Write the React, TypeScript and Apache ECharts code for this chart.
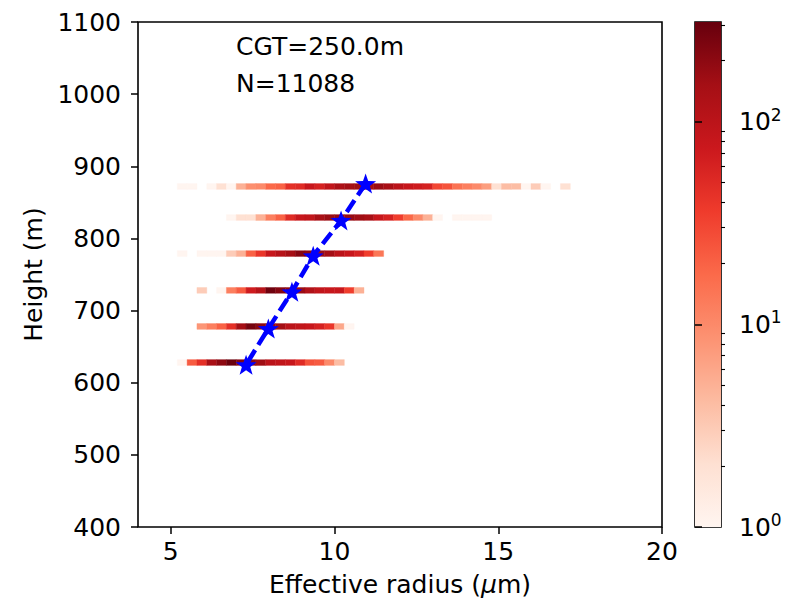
import React, { useEffect, useRef } from "react";
import * as echarts from "echarts";

// ---- data ----
const binStart = 5.2; // left edge of first radius bin (µm)
const binWidth = 0.3; // radius bin width (µm)
const binHeight = 8; // height bin thickness (m)
const rowHeights = [872, 829, 779, 728, 678, 628];
const row872 = [1, 1, 0, 1, 2, 1, 5, 9, 10, 18, 20, 45, 50, 80, 60, 90, 130, 150, 160, 150, 170, 140, 100, 80, 70, 60, 30, 25, 15, 12, 10, 7, 2, 4, 4, 1, 3, 1, 0, 2];
const row829 = [0, 0, 0, 0, 0, 1, 2, 2, 5, 12, 20, 50, 80, 90, 140, 170, 180, 180, 160, 140, 80, 60, 35, 18, 10, 5, 1, 0, 1, 1, 1, 1];
const row779 = [1, 0, 1, 1, 1, 3, 5, 20, 40, 80, 110, 150, 220, 200, 170, 150, 100, 80, 60, 35, 14];
const row728 = [0, 0, 3, 0, 1, 12, 22, 70, 110, 280, 220, 200, 170, 120, 90, 80, 80, 35, 5];
const row678 = [0, 0, 8, 12, 20, 45, 150, 260, 200, 180, 150, 100, 90, 80, 60, 40, 6, 1];
const row628 = [1, 22, 45, 140, 200, 300, 220, 200, 160, 100, 90, 80, 50, 25, 22, 10, 4];
const rowCounts = [row872, row829, row779, row728, row678, row628];
const meanRadius = [10.95, 10.2, 9.35, 8.7, 7.98, 7.3];
const meanHeight = [876, 825, 776, 726, 675, 625];
const xTicks = [5, 10, 15, 20];
const cbarMax = 310;
const cbarMajor = [0, 1, 2];
const cbarMinor = [2, 3, 4, 5, 6, 7, 8, 9, 20, 30, 40, 50, 60, 70, 80, 90, 200, 300];
const reds = ["#fff5f0", "#fee0d2", "#fcbba1", "#fc9272", "#fb6a4a", "#ef3b2c", "#cb181d", "#a50f15", "#67000d"];

const FONT = "DejaVu Sans";
const FS = 25;
const LOGMAX = Math.log10(cbarMax);

function hexToRgb(h: string) {
  const n = parseInt(h.slice(1), 16);
  return [(n >> 16) & 255, (n >> 8) & 255, n & 255];
}
function colorFor(count: number) {
  let t = Math.log10(Math.max(count, 1)) / LOGMAX;
  t = Math.min(1, Math.max(0, t));
  const pos = t * (reds.length - 1);
  const i = Math.min(reds.length - 2, Math.floor(pos));
  const f = pos - i;
  const a = hexToRgb(reds[i]);
  const b = hexToRgb(reds[i + 1]);
  const c = a.map((v, k) => Math.round(v + (b[k] - v) * f));
  return `rgb(${c[0]},${c[1]},${c[2]})`;
}

const heatData: number[][] = [];
rowCounts.forEach((row, r) => {
  row.forEach((c, k) => {
    if (c > 0) heatData.push([binStart + binWidth * (k + 0.5), rowHeights[r], c]);
  });
});
const lineData = meanRadius.map((x, i) => [x, meanHeight[i]]);

const STAR =
  "path://M0,-10 L2.35,-3.24 L9.51,-3.09 L3.8,1.24 L5.88,8.09 L0,4 L-5.88,8.09 L-3.8,1.24 L-9.51,-3.09 L-2.35,-3.24 Z";

export default function App() {
  const ref = useRef<HTMLDivElement>(null);
  useEffect(() => {
    if (!ref.current) return;
    const chart = echarts.init(ref.current, null, { renderer: "svg" });
    const tickLabel = { color: "#000", fontSize: FS, fontFamily: FONT };
    chart.setOption({
      animation: false,
      backgroundColor: "#fff",
      grid: [
        { left: 138, top: 22, width: 524, height: 505, show: true, borderColor: "#000", borderWidth: 1.6, backgroundColor: "transparent" },
        { left: 695, top: 22, width: 26, height: 505, show: true, borderColor: "#000", borderWidth: 1.6, backgroundColor: "transparent" },
      ],
      xAxis: [
        {
          type: "value",
          gridIndex: 0,
          min: 4,
          max: 20,
          splitLine: { show: false },
          axisLine: { show: false },
          axisTick: { show: true, length: 7, customValues: xTicks, lineStyle: { color: "#000", width: 1.5 } },
          axisLabel: { ...tickLabel, margin: 12, customValues: xTicks },
          name: "Effective radius ({i|μ}m)",
          nameLocation: "middle",
          nameGap: 45,
          nameTextStyle: { color: "#000", fontSize: FS, fontFamily: FONT, rich: { i: { fontStyle: "italic", fontSize: FS, fontFamily: FONT, color: "#000" } } },
        },
        { type: "value", gridIndex: 1, min: 0, max: 1, show: false },
      ],
      yAxis: [
        {
          type: "value",
          gridIndex: 0,
          min: 400,
          max: 1100,
          interval: 100,
          splitLine: { show: false },
          axisLine: { show: false },
          axisTick: { show: true, length: 7, lineStyle: { color: "#000", width: 1.5 } },
          axisLabel: { ...tickLabel, margin: 17, formatter: (v: number) => String(v) },
          name: "Height (m)",
          nameLocation: "middle",
          nameGap: 90,
          nameTextStyle: { color: "#000", fontSize: FS, fontFamily: FONT },
        },
        {
          type: "value",
          gridIndex: 1,
          min: 0,
          max: LOGMAX,
          position: "right",
          splitLine: { show: false },
          axisLine: { show: false },
          axisTick: { show: true, length: 7, customValues: cbarMajor, lineStyle: { color: "#000", width: 1.5 } },
          axisLabel: {
            customValues: cbarMajor,
            margin: 18,
            formatter: (v: number) => `{b|10}{s|${Math.round(v)}}`,
            rich: {
              b: { fontSize: FS, fontFamily: FONT, color: "#000" },
              s: { fontSize: 17, fontFamily: FONT, color: "#000", verticalAlign: "top", padding: [0, 0, 14, 0] },
            },
          },
        },
        {
          type: "value",
          gridIndex: 1,
          min: 0,
          max: LOGMAX,
          position: "right",
          splitLine: { show: false },
          axisLine: { show: false },
          axisTick: { show: true, length: 4, customValues: cbarMinor.map((v) => Math.log10(v)), lineStyle: { color: "#000", width: 1.1 } },
          axisLabel: { show: false },
        },
      ],
      graphic: [
        { type: "text", left: 236, top: 34, style: { text: "CGT=250.0m", fontSize: FS, fontFamily: FONT, fill: "#000" } },
        { type: "text", left: 236, top: 71, style: { text: "N=11088", fontSize: FS, fontFamily: FONT, fill: "#000" } },
      ],
      series: [
        {
          type: "custom",
          xAxisIndex: 0,
          yAxisIndex: 0,
          data: heatData,
          renderItem: (params: any, api: any) => {
            const x = api.value(0);
            const y = api.value(1);
            const c = api.value(2);
            const p1 = api.coord([x - binWidth / 2, y + binHeight / 2]);
            const p2 = api.coord([x + binWidth / 2, y - binHeight / 2]);
            const col = colorFor(c);
            return {
              type: "rect",
              shape: { x: p1[0], y: p1[1], width: p2[0] - p1[0], height: p2[1] - p1[1] },
              style: { fill: col, stroke: col, lineWidth: 0.4 },
            };
          },
          z: 1,
        },
        {
          type: "custom",
          xAxisIndex: 1,
          yAxisIndex: 1,
          data: [[0, 0]],
          renderItem: (params: any, api: any) => {
            const top = api.coord([0, LOGMAX]);
            const bot = api.coord([1, 0]);
            return {
              type: "rect",
              shape: { x: top[0], y: top[1], width: bot[0] - top[0], height: bot[1] - top[1] },
              style: {
                fill: new echarts.graphic.LinearGradient(
                  0,
                  1,
                  0,
                  0,
                  reds.map((c, i) => ({ offset: i / (reds.length - 1), color: c }))
                ),
              },
            };
          },
          z: 0,
        },
        {
          type: "line",
          xAxisIndex: 0,
          yAxisIndex: 0,
          data: lineData,
          symbol: STAR,
          symbolSize: [21, 20],
          itemStyle: { color: "#0000ff" },
          lineStyle: { color: "#0000ff", width: 4.5, type: [14, 6] },
          z: 5,
        },
      ],
    });
    return () => chart.dispose();
  }, []);
  return <div ref={ref} style={{ position: "absolute", left: 0, top: 0, width: 786, height: 602 }} />;
}
